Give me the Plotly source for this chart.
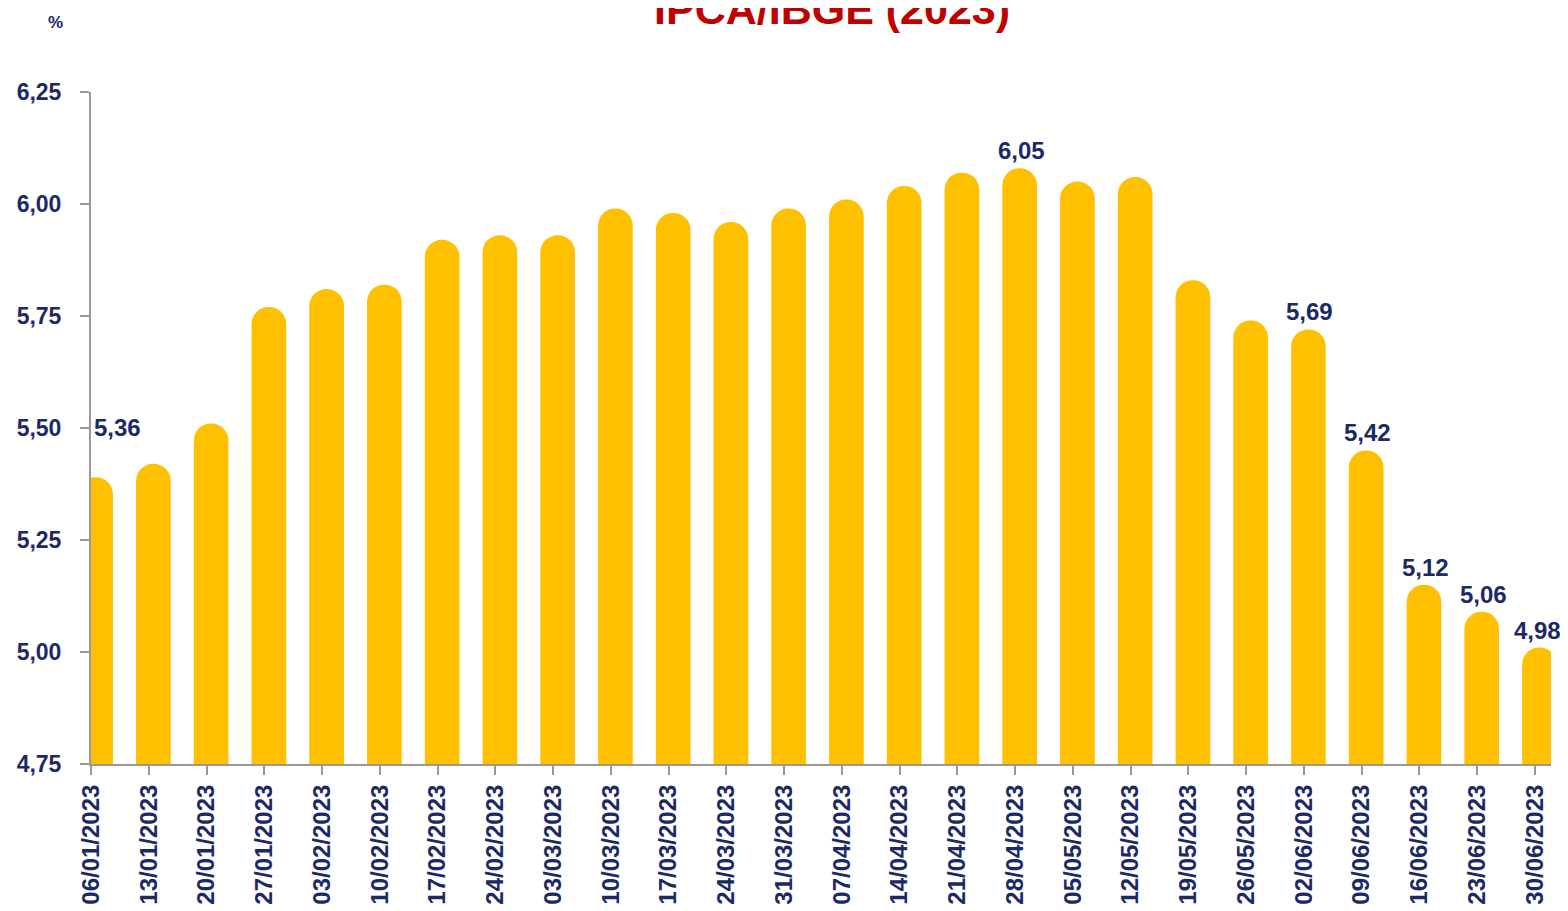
import plotly.graph_objects as go

dates = ["06/01/2023", "13/01/2023", "20/01/2023", "27/01/2023", "03/02/2023", "10/02/2023",
         "17/02/2023", "24/02/2023", "03/03/2023", "10/03/2023", "17/03/2023", "24/03/2023",
         "31/03/2023", "07/04/2023", "14/04/2023", "21/04/2023", "28/04/2023", "05/05/2023",
         "12/05/2023", "19/05/2023", "26/05/2023", "02/06/2023", "09/06/2023", "16/06/2023",
         "23/06/2023", "30/06/2023"]
values = [5.36, 5.39, 5.48, 5.74, 5.78, 5.79, 5.89, 5.90, 5.90, 5.96, 5.95, 5.93, 5.96,
          5.98, 6.01, 6.04, 6.05, 6.02, 6.03, 5.80, 5.71, 5.69, 5.42, 5.12, 5.06, 4.98]
labeled = ["06/01/2023", "28/04/2023", "02/06/2023", "09/06/2023", "16/06/2023",
           "23/06/2023", "30/06/2023"]
y_ticks = [4.75, 5.00, 5.25, 5.50, 5.75, 6.00, 6.25]
Y_MIN, Y_MAX = 4.75, 6.25
CAP = 0.03  # rounded cap drawn above the value

FONT = "Liberation Sans Narrow, Arial Narrow, Liberation Sans, Arial, sans-serif"
NAVY = "#1b2a66"
YELLOW = "#FFC000"

fig = go.Figure()
fig.add_trace(go.Bar(
    x=dates, y=[v + CAP for v in values],
    width=0.6, offset=-0.22,
    marker=dict(color=YELLOW, cornerradius="50%", line=dict(width=0)),
    customdata=values, hovertemplate="%{x}: %{customdata:.2f}<extra></extra>",
))

annotations = []
for d, v in zip(dates, values):
    if d in labeled:
        first = d == dates[0]
        last = d == dates[-1]
        annotations.append(dict(
            x=d, y=v + CAP, xref="x", yref="y",
            text=f"{v:.2f}".replace(".", ","),
            showarrow=False, yanchor="bottom",
            xshift=26 if first else (3 if last else 6),
            yshift=34 if first else 2,
            font=dict(family=FONT, size=24, color=NAVY, weight="bold"),
        ))
annotations.append(dict(
    x=-0.0246, y=1.104, xref="paper", yref="paper", text="%", showarrow=False,
    xanchor="center", yanchor="middle",
    font=dict(family=FONT, size=17, color=NAVY, weight="bold"),
))
annotations.append(dict(
    x=0.5075, y=1.123, xref="paper", yref="paper", text="IPCA/IBGE (2023)",
    showarrow=False, xanchor="center", yanchor="middle",
    font=dict(family="Liberation Sans, Arial, sans-serif", size=43, color="#C00000",
              weight="bold"),
))

fig.update_layout(
    width=1560, height=903,
    margin=dict(l=83, r=17, t=84, b=147, autoexpand=False),
    paper_bgcolor="white", plot_bgcolor="white",
    separators=",.",
    showlegend=False,
    annotations=annotations,
    font=dict(family=FONT, color=NAVY),
)
fig.update_xaxes(
    type="category", range=[0, 25.28],
    showline=True, linecolor="#999999", linewidth=2,
    ticks="outside", ticklen=9, tickcolor="#999999", tickwidth=2,
    tickangle=-90, showgrid=False,
    tickfont=dict(family=FONT, size=24, color=NAVY, weight="bold"),
)
fig.update_yaxes(
    range=[Y_MIN, Y_MAX], tickvals=y_ticks,
    ticktext=[f"{t:.2f}".replace(".", ",") for t in y_ticks],
    showline=True, linecolor="#999999", linewidth=2,
    ticks="outside", ticklen=9, tickcolor="#999999", tickwidth=2,
    showgrid=False, zeroline=False, ticklabelstandoff=14,
    tickfont=dict(family=FONT, size=23, color=NAVY, weight="bold"),
)

fig.write_html("out.html")
